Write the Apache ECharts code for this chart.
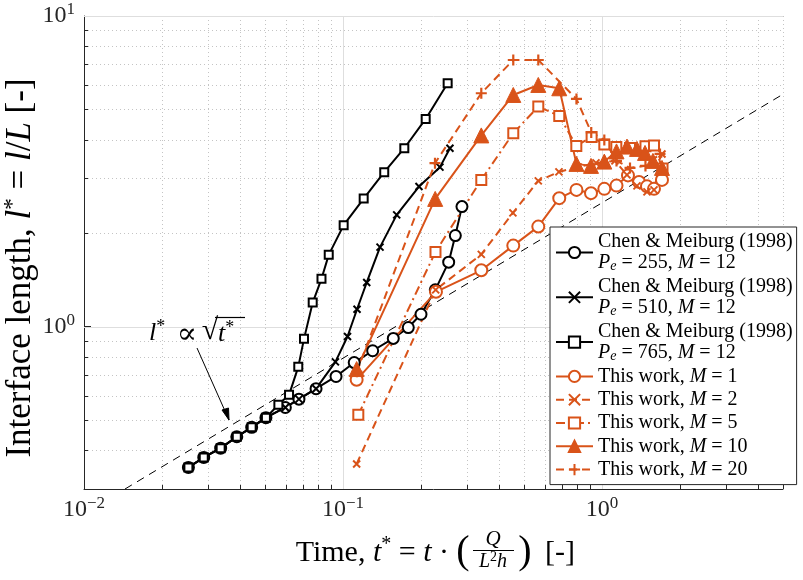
<!DOCTYPE html>
<html><head><meta charset="utf-8">
<script src="https://cdn.jsdelivr.net/npm/echarts@6/dist/echarts.min.js"></script>
<style>html,body{margin:0;padding:0;background:#fff}#c{width:803px;height:580px}</style>
</head><body><div id="c"></div>
<script>
const SERIF = '"Liberation Serif", "DejaVu Serif", serif';
const ORANGE = '#D95319';
const AXIS = '#262626';
const X_MIN = 0.01, X_MAX = 5, Y_MIN = 0.3, Y_MAX = 10;

// ---- data (t*, l*) ----
const chen255_t = [0.0253,0.0290,0.0337,0.0389,0.0444,0.0504,0.0599,0.0676,0.0787,0.0940,0.1105,0.1302,0.1564,0.1787,0.2001,0.2272,0.2559,0.2715,0.2880];
const chen255_l = [0.352,0.379,0.406,0.442,0.474,0.509,0.549,0.584,0.631,0.691,0.766,0.836,0.916,0.993,1.096,1.313,1.612,1.964,2.434];

const chen510_t = [0.0253,0.0290,0.0337,0.0389,0.0444,0.0504,0.0599,0.0676,0.0787,0.0935,0.1041,0.1133,0.1235,0.1390,0.1612,0.1965,0.2368,0.2588];
const chen510_l = [0.352,0.379,0.406,0.442,0.474,0.509,0.549,0.584,0.631,0.770,0.929,1.137,1.387,1.803,2.289,2.824,3.261,3.752];

const chen765_t = [0.0253,0.0290,0.0337,0.0389,0.0444,0.0504,0.0563,0.0619,0.0672,0.0707,0.0764,0.0826,0.0881,0.1006,0.1202,0.1443,0.1725,0.2086,0.2536];
const chen765_l = [0.352,0.379,0.406,0.442,0.474,0.509,0.560,0.603,0.742,0.913,1.195,1.425,1.702,2.121,2.584,3.141,3.752,4.663,6.075];

const m1_t = [0.1129,0.2286,0.342,0.4545,0.5677,0.684,0.797,0.907,1.021,1.138,1.26,1.39,1.492,1.588,1.705];
const m1_l = [0.674,1.294,1.518,1.823,2.099,2.591,2.755,2.689,2.776,2.844,3.068,2.923,2.828,2.776,2.967];

const m2_t = [0.1129,0.228,0.342,0.453,0.5677,0.682,0.808,0.948,1.122,1.249,1.365,1.492,1.588,1.705];
const m2_l = [0.361,1.313,1.708,2.323,2.945,3.148,3.267,3.365,3.416,3.079,2.838,2.715,2.755,3.597];

const m5_t = [0.1146,0.2276,0.342,0.4545,0.5677,0.684,0.796,0.912,1.021,1.136,1.283,1.472,1.588,1.713];
const m5_l = [0.520,1.740,2.967,4.194,5.108,4.767,3.817,4.080,3.860,3.789,3.761,3.809,3.831,3.231];

const m10_t = [0.1129,0.227,0.342,0.4545,0.5677,0.684,0.797,0.907,1.021,1.138,1.249,1.365,1.466,1.573,1.705];
const m10_l = [0.730,2.577,4.126,5.569,5.998,5.852,3.341,3.292,3.398,3.665,3.798,3.733,3.624,3.416,3.243];

const m20_t = [0.1132,0.2266,0.342,0.4545,0.5677,0.797,0.909,1.021,1.138,1.283,1.472,1.675];
const m20_l = [0.715,3.358,5.640,7.218,7.218,5.406,4.219,3.990,3.416,3.243,3.292,3.597];

// reference line l* ∝ sqrt(t*) endpoints
const ref_t = [0.0144, 5];
const ref_l = [0.3, 5.6];

// grid / tick positions
const xMajorGrid = [0.1, 1];
const xMinorGrid = [0.02,0.03,0.04,0.05,0.06,0.07,0.08,0.09,0.2,0.3,0.4,0.5,0.6,0.7,0.8,0.9,2,3,4,5];
const yMajorGrid = [1, 10];
const yMinorGrid = [0.4,0.5,0.6,0.7,0.8,0.9,2,3,4,5,6,7,8,9];

const zip = (a, b) => a.map((v, i) => [v, b[i]]);

const PATH_X = 'path://M0,0L10,10M10,0L0,10';
const PATH_PLUS = 'path://M5,0L5,10M0,5L10,5';

function powLabel(v) {
  const e = Math.log10(v), r = Math.round(e);
  if (Math.abs(e - r) > 1e-6) return '';
  return '{b|10}{s|' + (r < 0 ? '\u2212' + (-r) : r) + '}';
}
const LABEL_RICH = {
  b: { fontFamily: SERIF, fontSize: 24, color: AXIS, lineHeight: 29 },
  s: { fontFamily: SERIF, fontSize: 17, color: AXIS, lineHeight: 17, verticalAlign: 'top' }
};

function vLines(major) {
  return function (params, api) {
    const v = api.value(0);
    const a = api.coord([v, Y_MIN]), b = api.coord([v, Y_MAX]);
    const x = Math.round(a[0]) + 0.5;
    const ch = [{ type: 'line', shape: { x1: x, y1: b[1], x2: x, y2: a[1] },
      style: major ? { stroke: '#dedede', lineWidth: 1 } : { stroke: '#c4c4c4', lineWidth: 1, lineDash: [1, 3] } }];
    if (!major) ch.push({ type: 'line', shape: { x1: x, y1: a[1], x2: x, y2: a[1] - 4 }, style: { stroke: AXIS, lineWidth: 1 } });
    return { type: 'group', children: ch };
  };
}
function hLines(major) {
  return function (params, api) {
    const v = api.value(1);
    const a = api.coord([X_MIN, v]), b = api.coord([X_MAX, v]);
    const y = Math.round(a[1]) + 0.5;
    const ch = [{ type: 'line', shape: { x1: a[0], y1: y, x2: b[0], y2: y },
      style: major ? { stroke: '#dedede', lineWidth: 1 } : { stroke: '#c4c4c4', lineWidth: 1, lineDash: [1, 3] } }];
    if (!major) ch.push({ type: 'line', shape: { x1: a[0], y1: y, x2: a[0] + 4, y2: y }, style: { stroke: AXIS, lineWidth: 1 } });
    return { type: 'group', children: ch };
  };
}

function lineS(name, t, l, color, dash, symbol, size, opts) {
  opts = opts || {};
  return {
    name, type: 'line', data: zip(t, l), z: opts.z || 3,
    symbol, symbolSize: size, showAllSymbol: true,
    lineStyle: { color, width: opts.lw || 2, type: dash },
    itemStyle: { color: opts.fill || color, borderColor: color, borderWidth: opts.bw || 2 },
    emphasis: { disabled: true }, animation: false
  };
}

const LEG = {
  c255: '{n|Chen & Meiburg (1998)}\n{i|P}{sub|e}{n| = 255, }{i|M}{n| = 12}',
  c510: '{n|Chen & Meiburg (1998)}\n{i|P}{sub|e}{n| = 510, }{i|M}{n| = 12}',
  c765: '{n|Chen & Meiburg (1998)}\n{i|P}{sub|e}{n| = 765, }{i|M}{n| = 12}',
  m1: '{n|This work, }{i|M}{n| = 1}',
  m2: '{n|This work, }{i|M}{n| = 2}',
  m5: '{n|This work, }{i|M}{n| = 5}',
  m10: '{n|This work, }{i|M}{n| = 10}',
  m20: '{n|This work, }{i|M}{n| = 20}'
};

const T_RICH = (fs, sfs, lh) => ({
  n: { fontFamily: SERIF, fontSize: fs, fill: '#000', lineHeight: lh },
  i: { fontFamily: SERIF, fontSize: fs, fontStyle: 'italic', fill: '#000', lineHeight: lh },
  sup: { fontFamily: SERIF, fontSize: sfs, fill: '#000', lineHeight: sfs, verticalAlign: 'top' }
});
const C = { align: 'center', verticalAlign: 'middle', textAlign: 'center', textVerticalAlign: 'middle' };
const L = { align: 'left', verticalAlign: 'middle', textAlign: 'left', textVerticalAlign: 'middle' };

const chart = echarts.init(document.getElementById('c'), null, { renderer: 'canvas' });
chart.setOption({
  animation: false,
  backgroundColor: '#fff',
  grid: { left: 84, right: 20, top: 16, bottom: 91, containLabel: false },
  xAxis: {
    type: 'log', logBase: 10, min: X_MIN, max: X_MAX,
    axisLine: { lineStyle: { color: AXIS, width: 1 } },
    axisTick: { inside: true, length: 7, lineStyle: { color: AXIS } },
    splitLine: { show: false },
    axisLabel: { formatter: powLabel, margin: 6, rich: LABEL_RICH }
  },
  yAxis: {
    type: 'log', logBase: 10, min: Y_MIN, max: Y_MAX,
    axisLine: { lineStyle: { color: AXIS, width: 1 } },
    axisTick: { inside: true, length: 7, lineStyle: { color: AXIS } },
    splitLine: { show: false },
    axisLabel: { formatter: powLabel, margin: 9, rich: LABEL_RICH }
  },
  legend: {
    orient: 'vertical', left: 550, top: 227,
    data: ['c255', 'c510', 'c765', 'm1', 'm2', 'm5', 'm10', 'm20'],
    formatter: n => LEG[n],
    itemWidth: 37, itemHeight: 14, itemGap: 3.3,
    padding: [5, 4, 5, 5],
    backgroundColor: '#fff', borderColor: AXIS, borderWidth: 1,
    selectedMode: false,
    textStyle: { rich: {
      n: { fontFamily: SERIF, fontSize: 20, color: '#000', lineHeight: 21 },
      i: { fontFamily: SERIF, fontSize: 20, fontStyle: 'italic', color: '#000', lineHeight: 21 },
      sub: { fontFamily: SERIF, fontSize: 14, fontStyle: 'italic', color: '#000', lineHeight: 12, verticalAlign: 'bottom' }
    } }
  },
  graphic: [
    // y-axis title
    { type: 'text', x: 21, y: 268, rotation: Math.PI / 2, style: Object.assign({
        text: '{n|Interface length, }{i|l}{sup|*}{n| = }{i|l}{n|/}{i|L}{n| [-]}',
        rich: T_RICH(35, 23, 40) }, C) },
    // x-axis title
    { type: 'text', x: 449, y: 553, style: {
        text: '{n|Time, }{i|t}{sup|*}{n| = }{i|t}{n| \u00b7}', align: 'right', verticalAlign: 'middle',
        textAlign: 'right', textVerticalAlign: 'middle', rich: T_RICH(30, 20, 36) } },
    { type: 'text', x: 463, y: 552, style: Object.assign({ text: '(', font: '40px ' + SERIF, fill: '#000' }, C) },
    { type: 'text', x: 493, y: 539, style: Object.assign({ text: 'Q', font: 'italic 21px ' + SERIF, fill: '#000' }, C) },
    { type: 'line', shape: { x1: 473, y1: 550.5, x2: 514, y2: 550.5 }, style: { stroke: '#000', lineWidth: 1 } },
    { type: 'text', x: 493, y: 562, style: Object.assign({
        text: '{i|L}{s|2}{i|h}',
        rich: {
          i: { fontFamily: SERIF, fontSize: 20, fontStyle: 'italic', fill: '#000', lineHeight: 23 },
          s: { fontFamily: SERIF, fontSize: 14, fill: '#000', lineHeight: 14, verticalAlign: 'top' }
        } }, C) },
    { type: 'text', x: 525, y: 552, style: Object.assign({ text: ')', font: '40px ' + SERIF, fill: '#000' }, C) },
    { type: 'text', x: 545, y: 553, style: Object.assign({ text: '[-]', font: '30px ' + SERIF, fill: '#000' }, L) },
    // annotation  l* ∝ sqrt(t*)
    { type: 'text', x: 149, y: 333, z: 10, style: Object.assign({ text: '{i|l}{sup|*}', rich: T_RICH(26, 18, 30) }, L) },
    { type: 'text', x: 187, y: 335, z: 10, style: Object.assign({ text: '\u221d', font: '30px ' + SERIF, fill: '#000' }, C) },
    { type: 'text', x: 210, y: 331, z: 10, style: Object.assign({ text: '\u221a', font: '30px ' + SERIF, fill: '#000' }, C) },
    { type: 'text', x: 218, y: 334, z: 10, style: Object.assign({ text: '{i|t}{sup|*}', rich: T_RICH(26, 18, 30) }, L) },
    { type: 'line', z: 10, shape: { x1: 215, y1: 317.5, x2: 245, y2: 317.5 }, style: { stroke: '#000', lineWidth: 1.2 } },
    { type: 'line', z: 10, shape: { x1: 197, y1: 348, x2: 229, y2: 420 }, style: { stroke: '#000', lineWidth: 1 } },
    { type: 'polygon', z: 10, shape: { points: [[222, 410], [229, 420], [228.5, 408]] }, style: { stroke: '#000', lineWidth: 1, fill: '#000' } }
  ],
  series: [
    { type: 'custom', name: 'gxm', data: xMinorGrid.map(v => [v, 1]), renderItem: vLines(false), z: 1, silent: true, clip: false },
    { type: 'custom', name: 'gxM', data: xMajorGrid.map(v => [v, 1]), renderItem: vLines(true), z: 1, silent: true, clip: false },
    { type: 'custom', name: 'gym', data: yMinorGrid.map(v => [1, v]), renderItem: hLines(false), z: 1, silent: true, clip: false },
    { type: 'custom', name: 'gyM', data: yMajorGrid.map(v => [1, v]), renderItem: hLines(true), z: 1, silent: true, clip: false },
    { type: 'line', name: 'ref', data: zip(ref_t, ref_l), symbol: 'none', z: 2, silent: true,
      lineStyle: { color: '#000', width: 1, type: [8, 6] }, animation: false },
    lineS('c255', chen255_t, chen255_l, '#000', 'solid', 'emptyCircle', 11, { lw: 2, bw: 1.8 }),
    lineS('c510', chen510_t, chen510_l, '#000', 'solid', PATH_X, 7, { lw: 2, bw: 2 }),
    lineS('c765', chen765_t, chen765_l, '#000', 'solid', 'emptyRect', 8, { lw: 2, bw: 2 }),
    lineS('m1', m1_t, m1_l, ORANGE, 'solid', 'emptyCircle', 12, { lw: 2, bw: 2 }),
    lineS('m2', m2_t, m2_l, ORANGE, [8, 5], PATH_X, 7, { lw: 2, bw: 2 }),
    lineS('m5', m5_t, m5_l, ORANGE, [9, 4, 2, 4], 'emptyRect', 10, { lw: 2, bw: 2 }),
    lineS('m10', m10_t, m10_l, ORANGE, 'solid', 'triangle', 15, { lw: 2, bw: 1 }),
    lineS('m20', m20_t, m20_l, ORANGE, [8, 5], PATH_PLUS, 11, { lw: 2, bw: 2.2 })
  ]
});
</script></body></html>
